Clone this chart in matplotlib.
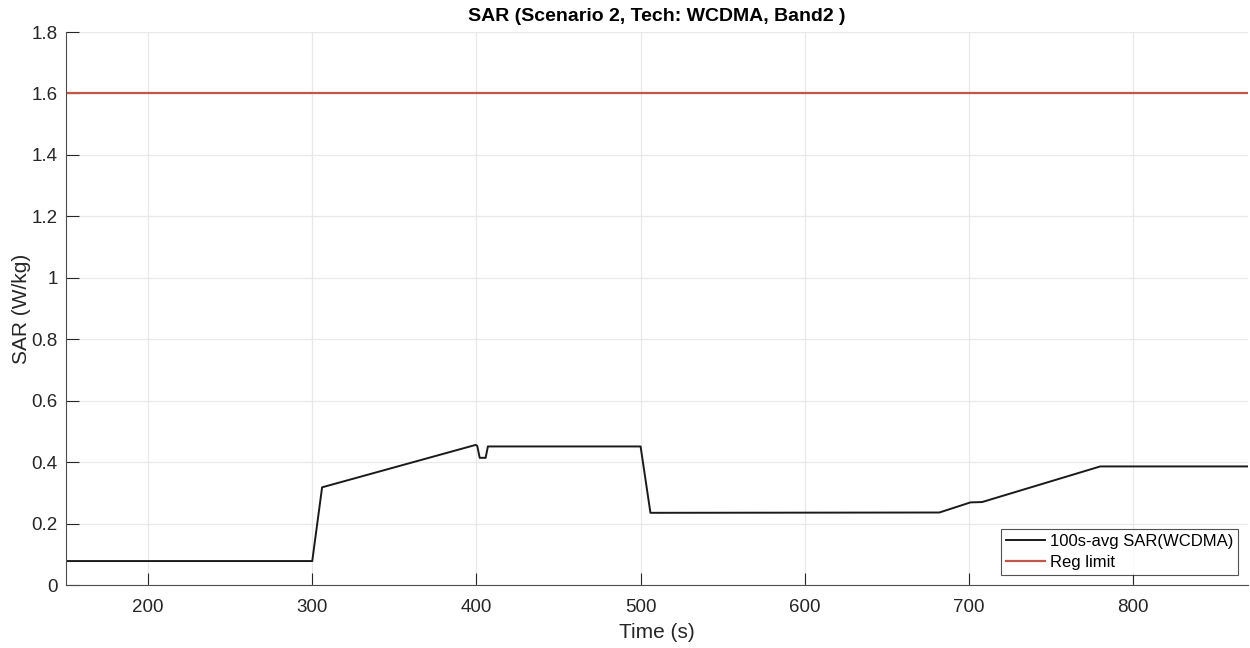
import matplotlib
matplotlib.use("Agg")
import matplotlib.pyplot as plt

time_s = [150, 300, 306, 399.5, 400.5, 402, 405.6, 407, 500, 506, 682, 701, 708, 780, 870]
sar_avg = [0.078, 0.078, 0.318, 0.456, 0.453, 0.414, 0.414, 0.451, 0.451, 0.235, 0.236, 0.269, 0.270, 0.386, 0.386]
reg_time = [150, 870]
reg_limit = [1.6, 1.6]

x_ticks = [200, 300, 400, 500, 600, 700, 800]
y_ticks = [0, 0.2, 0.4, 0.6, 0.8, 1.0, 1.2, 1.4, 1.6, 1.8]
y_tick_labels = ["0", "0.2", "0.4", "0.6", "0.8", "1", "1.2", "1.4", "1.6", "1.8"]

plt.rcParams['font.family'] = ['Liberation Sans', 'DejaVu Sans']

fig = plt.figure(figsize=(12.5, 6.48), dpi=100)
ax = fig.add_axes([0.0528, 0.0972, 0.9456, 0.8534])

ax.plot(time_s, sar_avg, color='#1a1a1a', lw=1.4, label='100s-avg SAR(WCDMA)')
ax.plot(reg_time, reg_limit, color='#c0584a', lw=1.6, label='Reg limit')

ax.set_xlim(150, 870)
ax.set_ylim(0, 1.8)
ax.set_xticks(x_ticks)
ax.set_yticks(y_ticks)
ax.set_yticklabels(y_tick_labels)

ax.grid(True, color='#e8e8e8', lw=0.9)
ax.set_axisbelow(True)
for s in ['top', 'right']:
    ax.spines[s].set_visible(False)
for s in ['left', 'bottom']:
    ax.spines[s].set_color('#4d4d4d')
    ax.spines[s].set_linewidth(0.8)
ax.tick_params(direction='in', length=9, width=0.8, colors='#262626', labelsize=13.5, labelcolor='#262626')
ax.tick_params(axis='x', pad=10)
ax.tick_params(axis='y', pad=6)

ax.set_xlabel('Time (s)', fontsize=15, color='#262626', labelpad=5)
ax.set_ylabel('SAR (W/kg)', fontsize=15, color='#262626', labelpad=0)
ax.set_title('SAR (Scenario 2, Tech: WCDMA, Band2 )', fontsize=14, fontweight='bold', color='#000000', pad=8)

leg = ax.legend(loc='lower right', bbox_to_anchor=(0.9915, 0.018), fontsize=12, frameon=True,
                fancybox=False, edgecolor='#262626', handlelength=2.3, handletextpad=0.3,
                borderpad=0.3, labelspacing=0.35, borderaxespad=0.0)
leg.get_frame().set_linewidth(0.8)

fig.savefig('out.png', dpi=100)
